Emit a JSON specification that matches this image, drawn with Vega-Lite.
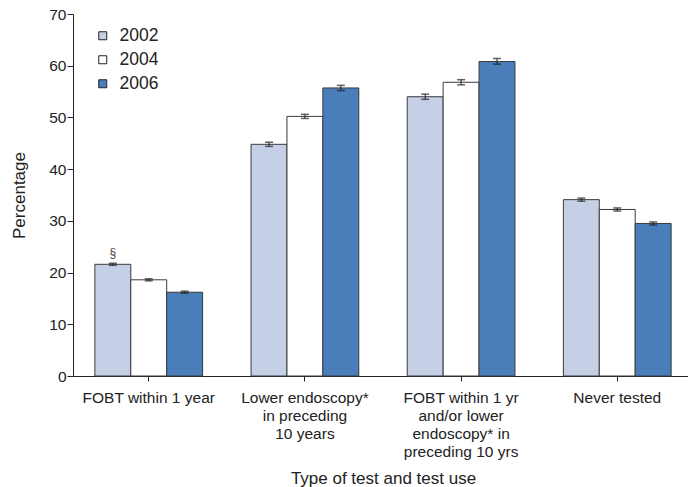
{
  "$schema": "https://vega.github.io/schema/vega-lite/v6.json",
  "width": 620,
  "height": 362,
  "padding": {"left": 10, "top": 7, "right": 0, "bottom": 0},
  "background": "white",
  "config": {
    "view": {"stroke": null},
    "font": "Liberation Sans",
    "axis": {"labelFont": "Liberation Sans", "titleFont": "Liberation Sans", "labelColor": "#222", "titleColor": "#222", "domainColor": "#222", "tickColor": "#222", "titleFontWeight": "normal"}
  },
  "data": {
    "values": [
      {"cat": "FOBT within 1 year", "year": "2002", "value": 21.6, "lo": 21.4, "hi": 21.8, "note": "§"},
      {"cat": "FOBT within 1 year", "year": "2004", "value": 18.6, "lo": 18.4, "hi": 18.8, "note": ""},
      {"cat": "FOBT within 1 year", "year": "2006", "value": 16.2, "lo": 16.0, "hi": 16.4, "note": ""},
      {"cat": "Lower endoscopy*|in preceding|10 years", "year": "2002", "value": 44.8, "lo": 44.4, "hi": 45.2, "note": ""},
      {"cat": "Lower endoscopy*|in preceding|10 years", "year": "2004", "value": 50.2, "lo": 49.8, "hi": 50.6, "note": ""},
      {"cat": "Lower endoscopy*|in preceding|10 years", "year": "2006", "value": 55.7, "lo": 55.2, "hi": 56.2, "note": ""},
      {"cat": "FOBT within 1 yr|and/or lower|endoscopy* in|preceding 10 yrs", "year": "2002", "value": 54.0, "lo": 53.5, "hi": 54.5, "note": ""},
      {"cat": "FOBT within 1 yr|and/or lower|endoscopy* in|preceding 10 yrs", "year": "2004", "value": 56.8, "lo": 56.3, "hi": 57.3, "note": ""},
      {"cat": "FOBT within 1 yr|and/or lower|endoscopy* in|preceding 10 yrs", "year": "2006", "value": 60.8, "lo": 60.3, "hi": 61.4, "note": ""},
      {"cat": "Never tested", "year": "2002", "value": 34.1, "lo": 33.8, "hi": 34.4, "note": ""},
      {"cat": "Never tested", "year": "2004", "value": 32.2, "lo": 31.9, "hi": 32.5, "note": ""},
      {"cat": "Never tested", "year": "2006", "value": 29.5, "lo": 29.2, "hi": 29.8, "note": ""}
    ]
  },
  "encoding": {
    "x": {
      "field": "cat", "type": "nominal", "sort": null,
      "scale": {"paddingInner": 0.31, "paddingOuter": 0.14},
      "axis": {"title": "Type of test and test use", "labelAngle": 0, "labelExpr": "split(datum.label, '|')", "labelFontSize": 15.5, "labelLineHeight": 18, "labelPadding": 9, "titleFontSize": 17, "titlePadding": 11, "tickSize": 5, "labelBaseline": "top"}
    },
    "xOffset": {"field": "year", "type": "nominal"}
  },
  "layer": [
    {
      "mark": {"type": "bar", "stroke": "#3a3a3a", "strokeWidth": 1},
      "encoding": {
        "y": {"field": "value", "type": "quantitative", "scale": {"domain": [0, 70], "nice": false}, "axis": {"title": "Percentage", "values": [0, 10, 20, 30, 40, 50, 60, 70], "grid": false, "labelFontSize": 15.5, "titleFontSize": 17, "tickSize": 6, "labelPadding": 1, "titlePadding": 20}},
        "fill": {
          "field": "year", "type": "nominal",
          "scale": {"domain": ["2002", "2004", "2006"], "range": ["#c5d0e7", "#ffffff", "#4a7ebb"]},
          "legend": {"title": null, "orient": "none", "legendX": 21, "legendY": 13, "symbolType": "square", "symbolSize": 64, "symbolStrokeColor": "#222", "symbolStrokeWidth": 1, "labelFontSize": 17.5, "labelFont": "Liberation Sans", "labelColor": "#222", "rowPadding": 5, "labelOffset": 8}
        }
      }
    },
    {
      "mark": {"type": "rule", "color": "#222", "strokeWidth": 1},
      "encoding": {"y": {"field": "lo", "type": "quantitative"}, "y2": {"field": "hi"}}
    },
    {
      "mark": {"type": "tick", "color": "#222", "thickness": 1.5, "size": 8, "orient": "horizontal"},
      "encoding": {"y": {"field": "lo", "type": "quantitative"}}
    },
    {
      "mark": {"type": "tick", "color": "#222", "thickness": 1.5, "size": 8, "orient": "horizontal"},
      "encoding": {"y": {"field": "hi", "type": "quantitative"}}
    },
    {
      "mark": {"type": "text", "dy": -3, "fontSize": 12, "fill": "#444", "color": "#444", "baseline": "bottom"},
      "encoding": {"y": {"field": "hi", "type": "quantitative"}, "text": {"field": "note"}}
    }
  ]
}
